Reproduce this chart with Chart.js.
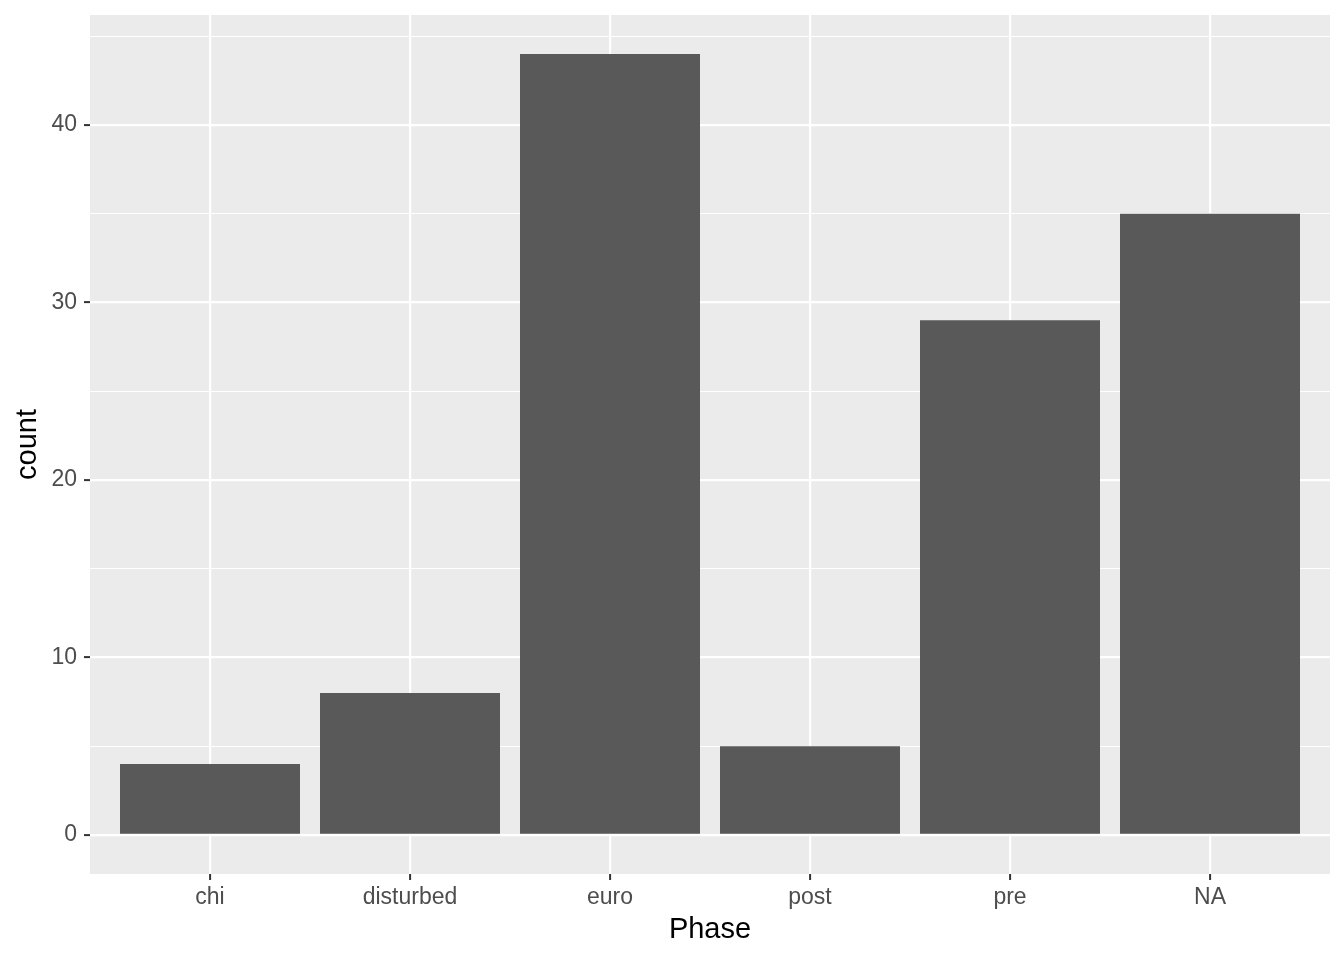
<!DOCTYPE html>
<html><head><meta charset="utf-8">
<script src="https://cdn.jsdelivr.net/npm/chart.js@4"></script>
<style>html,body{margin:0;padding:0;background:#fff}canvas{display:block}</style>
</head><body>
<canvas id="c" width="1344" height="960"></canvas>
<script>
const categories = ["chi", "disturbed", "euro", "post", "pre", "NA"];
const counts = [4, 8, 44, 5, 29, 35];
const yTicks = [0, 5, 10, 15, 20, 25, 30, 35, 40, 45];
const yLabelled = [0, 10, 20, 30, 40];

const panelBg = {
  id: 'panelBg',
  beforeDraw(chart) {
    const {ctx, chartArea: a} = chart;
    ctx.save();
    ctx.fillStyle = '#EBEBEB';
    ctx.fillRect(a.left, a.top, a.right - a.left, a.bottom - a.top);
    ctx.restore();
  }
};

const FONT = 'Liberation Sans, Arial, sans-serif';

new Chart(document.getElementById('c'), {
  type: 'bar',
  data: {
    datasets: [{
      data: categories.map((c, i) => ({x: i, y: counts[i]})),
      backgroundColor: '#595959',
      borderWidth: 0,
      categoryPercentage: 0.9,
      barPercentage: 1.0
    }]
  },
  plugins: [panelBg],
  options: {
    responsive: false,
    animation: false,
    devicePixelRatio: 1,
    layout: {padding: {top: 15, right: 14, left: 0, bottom: 0}},
    plugins: {legend: {display: false}, tooltip: {enabled: false}},
    scales: {
      x: {
        type: 'linear',
        offset: false,
        min: -0.6, max: 5.6,
        afterBuildTicks: s => { s.ticks = categories.map((c, i) => ({value: i})); },
        afterFit: s => { s.height = 86; s.paddingLeft = 0; s.paddingRight = 0; },
        grid: {offset: false, color: '#FFFFFF', lineWidth: 2.2, drawTicks: true, tickLength: 6, tickColor: '#333333', tickWidth: 2},
        border: {display: false},
        ticks: {
          callback: v => categories[v] ?? '',
          color: '#4D4D4D', font: {family: FONT, size: 23},
          padding: 4, maxRotation: 0, autoSkip: false
        },
        title: {display: true, text: 'Phase', color: '#000000', font: {family: FONT, size: 29}, padding: {top: 0, bottom: 13}}
      },
      y: {
        min: -2.2, max: 46.2,
        afterBuildTicks: s => { s.ticks = yTicks.map(v => ({value: v})); },
        afterFit: s => { s.width = 90; s.paddingTop = 0; s.paddingBottom = 0; },
        grid: {
          color: '#FFFFFF',
          lineWidth: ctx => yLabelled.includes(ctx.tick && ctx.tick.value) ? 2.2 : 1.1,
          drawTicks: true, tickLength: 6,
          tickColor: ctx => yLabelled.includes(ctx.tick && ctx.tick.value) ? '#333333' : 'rgba(0,0,0,0)',
          tickWidth: 2
        },
        border: {display: false},
        ticks: {
          callback: v => yLabelled.includes(v) ? String(v) : '',
          color: '#4D4D4D', font: {family: FONT, size: 23},
          padding: 7, autoSkip: false
        },
        title: {display: true, text: 'count', color: '#000000', font: {family: FONT, size: 29}, padding: {top: 11, bottom: 0}}
      }
    }
  }
});
</script>
</body></html>
